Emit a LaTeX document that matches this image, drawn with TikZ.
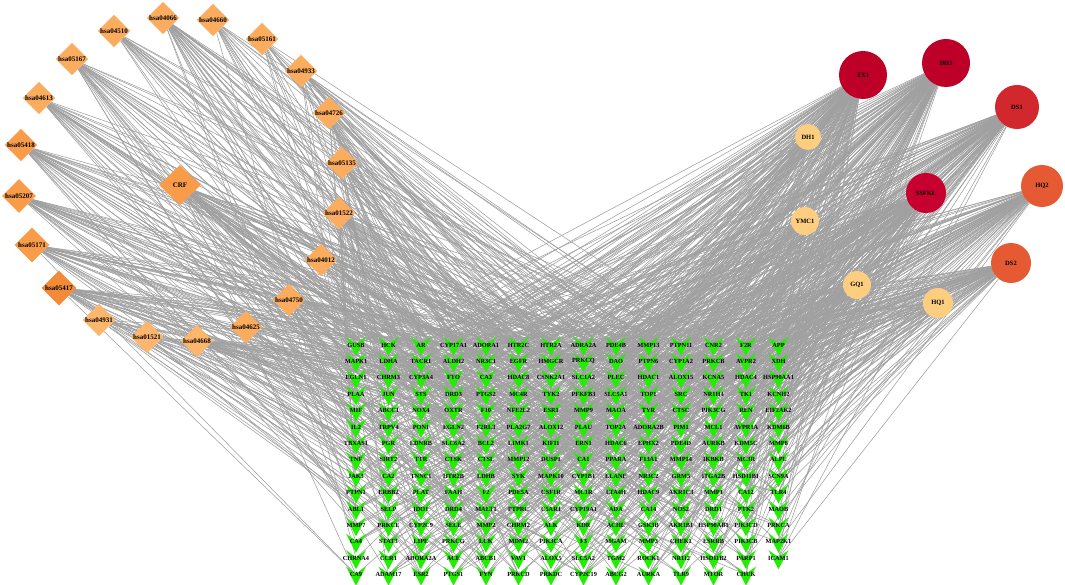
\documentclass[tikz,border=0pt]{standalone}
\usepackage{fontspec}
\setmainfont{Liberation Serif}
\usetikzlibrary{shapes.geometric}
\pgfdeclarelayer{bg}
\pgfsetlayers{bg,main}
\definecolor{vgreen}{RGB}{34,238,0}
\definecolor{edgegray}{RGB}{160,160,160}
\definecolor{dlight}{RGB}{252,172,94}
\definecolor{dmid}{RGB}{249,156,74}
\definecolor{ddark}{RGB}{242,138,56}
\definecolor{dpale}{RGB}{253,182,108}
\definecolor{crim}{RGB}{190,0,40}
\definecolor{crimb}{RGB}{200,0,48}
\definecolor{redd}{RGB}{210,40,45}
\definecolor{orred}{RGB}{229,90,50}
\definecolor{peach}{RGB}{253,205,128}
\tikzset{
  edge/.style={draw=edgegray, line width=0.55pt},
  gv/.style={rectangle, inner sep=0pt, minimum width=22pt, minimum height=24pt,
    font=\fontsize{6.3}{6.3}\selectfont\bfseries,
    path picture={\fill[vgreen]
      ([shift={(-10pt,8pt)}]path picture bounding box.center) --
      ([shift={(0pt,1pt)}]path picture bounding box.center) --
      ([shift={(10pt,8pt)}]path picture bounding box.center) --
      ([shift={(0pt,-11pt)}]path picture bounding box.center) -- cycle;}},
  dia/.style={diamond, inner sep=0pt, minimum width=30pt, minimum height=32pt,
    font=\fontsize{7}{7}\selectfont\bfseries},
  cir/.style={circle, inner sep=0pt, font=\fontsize{6.5}{6.5}\selectfont\bfseries},
}
\begin{document}
\begin{tikzpicture}[x=1pt,y=-1pt]
\useasboundingbox (0,0) rectangle (1065,585);
\begin{pgfonlayer}{bg}
\fill[white] (0,0) rectangle (1065,585);
\end{pgfonlayer}

% green target nodes
\foreach \row [count=\r from 0] in {
 {GUSB,HCK,AR,CYP17A1,ADORA1,HTR2C,HTR2A,ADRA2A,PDE4B,MMP13,PTPN11,CNR2,F2R,APP},
 {MAPK1,LDHA,TACR1,ALDH2,NR3C1,EGFR,HMGCR,PRKCQ,DAO,PTPN6,CYP1A2,PRKCB,AVPR2,XDH},
 {EGLN1,CHRM3,CYP3A4,FTO,CA3,HDAC8,CSNK2A1,SLC1A2,PLEC,HDAC1,ALOX15,KCNA5,HDAC4,HSP90AA1},
 {PLAA,JUN,STS,DRD3,PTGS2,MC4R,TYK2,PFKFB3,SLC5A1,TOP1,SRC,NR1H4,TK1,KCNH2},
 {MIF,ABCC1,NOX4,OXTR,F10,NFE2L2,ESR1,MMP9,MAOA,TYR,CTSC,PIK3CG,REN,EIF2AK2},
 {IL2,TRPV4,PON1,EGLN2,F2RL3,PLA2G7,ALOX12,PLAU,TOP2A,ADORA2B,PIM1,MCL1,AVPR1A,KDM6B},
 {TBXAS1,PGR,EDNRB,SLC6A2,BCL2,LIMK1,KIF11,ERN1,HDAC6,EPHX2,PDE4D,AURKB,KDM5C,MMP8},
 {TNF,SIRT2,TTR,CTSK,CTSL,MMP12,DUSP1,CA1,PPARA,F13A1,MMP14,IKBKB,MC3R,ALPL},
 {JAK3,CA2,TNNC1,HTR2B,LDHB,SYK,MAPK10,CYP1B1,ELANE,NR3C2,GRM5,ITGA2B,HSD11B1,SCN9A},
 {PTPN1,ERBB2,PLAT,FAAH,F2,PDE5A,CSF1R,MC1R,LTA4H,HDAC9,AKR1C3,MMP1,CA12,TLR4},
 {ABL1,SELP,IDO1,DRD4,MALT1,PTPRC,C5AR1,CYP19A1,ADA,CA14,NOS2,DRD1,PTK2,MAOB},
 {MMP7,PRKCE,CYP2C9,SELE,MMP2,CHRM2,ALK,KDR,ACHE,GSK3B,AKR1B1,HSP90AB1,PIK3CD,PRKCA},
 {CA4,STAT3,LIPE,PRKCG,LCK,MDM2,PIK3CA,F3,MGAM,MMP3,CHEK1,ESRRB,PIK3CB,MAP2K1},
 {CHRNA4,CCR1,ADORA2A,ACE,ABCB1,VAV1,ALOX5,SLC5A2,TGM2,ROCK1,NR1I2,HSD11B2,PARP1,ICAM1},
 {CA9,ADAM17,ESR2,PTGS1,FYN,PRKCD,PRKDC,CYP2C19,ABCG2,AURKA,TLR9,MTOR,CHUK}}{
  \foreach \lab [count=\c from 0] in \row {
    \node[gv] (g-\c-\r) at ({356+32.5*\c},{345+16.4*\r}) {\lab};
  }
}

% pathway diamonds
\node[dia, fill=dlight] (hsa04510) at (114,31) {hsa04510};
\node[dia, fill=dlight] (hsa04066) at (163,18) {hsa04066};
\node[dia, fill=dlight] (hsa04660) at (213,20) {hsa04660};
\node[dia, fill=dlight] (hsa05161) at (262,39) {hsa05161};
\node[dia, fill=dlight] (hsa04933) at (301,71) {hsa04933};
\node[dia, fill=dlight] (hsa04726) at (329,113) {hsa04726};
\node[dia, fill=dlight] (hsa05135) at (342,163) {hsa05135};
\node[dia, fill=dlight] (hsa05167) at (72,59) {hsa05167};
\node[dia, fill=dlight] (hsa04613) at (39,98) {hsa04613};
\node[dia, fill=dmid] (hsa05418) at (21,145) {hsa05418};
\node[dia, fill=dmid, minimum width=42pt, minimum height=40pt] (CRF) at (180,185) {CRF};
\node[dia, fill=dmid, minimum width=34pt, minimum height=34pt] (hsa05207) at (19,196) {hsa05207};
\node[dia, fill=dmid, minimum width=35pt, minimum height=35pt] (hsa05171) at (32,245) {hsa05171};
\node[dia, fill=ddark, minimum width=35pt, minimum height=35pt] (hsa05417) at (59,288) {hsa05417};
\node[dia, fill=dpale] (hsa04931) at (99,320) {hsa04931};
\node[dia, fill=dpale] (hsa01521) at (147,337) {hsa01521};
\node[dia, fill=dpale] (hsa04668) at (197,341) {hsa04668};
\node[dia, fill=dlight] (hsa04625) at (246,327) {hsa04625};
\node[dia, fill=dlight] (hsa04750) at (289,300) {hsa04750};
\node[dia, fill=dlight] (hsa04012) at (321,260) {hsa04012};
\node[dia, fill=dlight] (hsa01522) at (339,213) {hsa01522};

% herb / compound circles
\node[cir, fill=crim, minimum size=48pt] (ZX1) at (863,75) {ZX1};
\node[cir, fill=crim, minimum size=48pt] (DH3) at (946,63) {DH3};
\node[cir, fill=redd, minimum size=44pt] (DS1) at (1017,107) {DS1};
\node[cir, fill=orred, minimum size=42pt] (HQ2) at (1042,186) {HQ2};
\node[cir, fill=crimb, minimum size=40pt] (SSFKL) at (926,193) {SSFKL};
\node[cir, fill=orred, minimum size=40pt] (DS2) at (1011,263) {DS2};
\node[cir, fill=peach, minimum size=26pt] (DH1) at (808,137) {DH1};
\node[cir, fill=peach, minimum size=28pt] (YMC1) at (805,221) {YMC1};
\node[cir, fill=peach, minimum size=28pt] (GQ1) at (857,285) {GQ1};
\node[cir, fill=peach, minimum size=30pt] (HQ1) at (938,303) {HQ1};

% connectors
\begin{pgfonlayer}{bg}
\pgfmathsetseed{2024}
\foreach \s/\p in {ZX1/0.52, DH3/0.52, DS1/0.44, HQ2/0.38, SSFKL/0.44, DS2/0.36,
  DH1/0.1, YMC1/0.1, GQ1/0.1, HQ1/0.12, CRF/0.2, hsa05417/0.18, hsa05171/0.16,
  hsa05207/0.16, hsa05418/0.13, hsa04510/0.1, hsa04066/0.11, hsa04660/0.1,
  hsa05161/0.1, hsa04933/0.09, hsa04726/0.09, hsa05135/0.1, hsa05167/0.11,
  hsa04613/0.11, hsa04931/0.07, hsa01521/0.07, hsa04668/0.07, hsa04625/0.09,
  hsa04750/0.09, hsa04012/0.09, hsa01522/0.09}{
  \foreach \c in {0,...,13}{
    \foreach \r in {0,...,14}{
      \pgfmathsetmacro\rr{rnd}
      \ifdim\rr pt<\p pt\relax
        \ifnum\c\r=1314\relax\else
          \draw[edge] (\s) -- (g-\c-\r.center);
        \fi
      \fi
    }
  }
}
\end{pgfonlayer}
\end{tikzpicture}
\end{document}
